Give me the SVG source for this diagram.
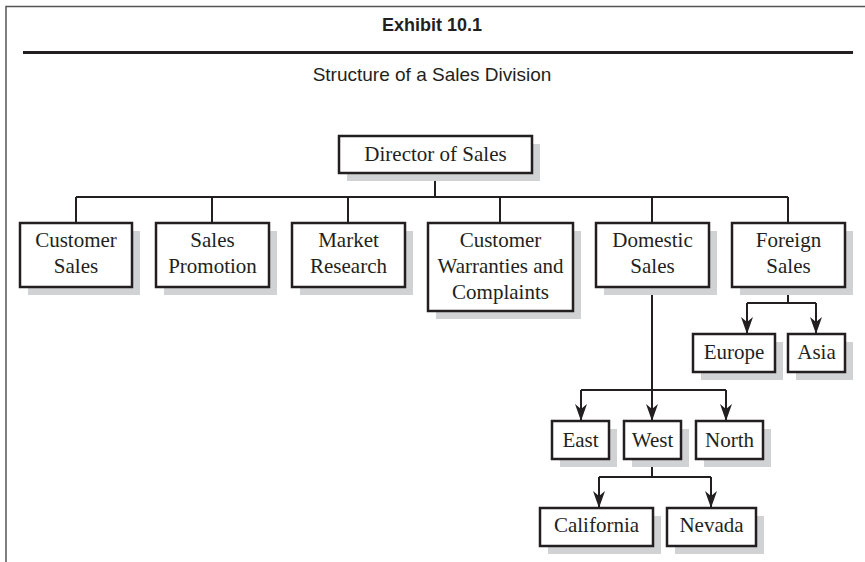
<svg xmlns="http://www.w3.org/2000/svg" width="865" height="562" viewBox="0 0 865 562">
<style>
.box{fill:#fff;stroke:#231f20;stroke-width:2.5}
.sh{fill:#d1d2d4}
.t{font-family:"Liberation Serif","Times New Roman",serif;font-size:21px;fill:#231f20;text-anchor:middle}
.c{fill:none;stroke:#231f20;stroke-width:2}
</style>
<defs>
<marker id="ah" viewBox="-17 -7 18 14" refX="0" refY="0" markerWidth="18" markerHeight="14" markerUnits="userSpaceOnUse" orient="auto">
<path d="M0,0 L-17,-6 L-12,0 L-17,6 Z" fill="#231f20"/>
</marker>
</defs>
<rect width="865" height="562" fill="#fff"/>
<g id="frame">
<path d="M6,562 V6.5 H865" fill="none" stroke="#555" stroke-width="1.5"/>
<line x1="23" y1="52.5" x2="853" y2="52.5" stroke="#231f20" stroke-width="3"/>
<text x="432" y="31" text-anchor="middle" font-family="Liberation Sans, Arial, sans-serif" font-size="18" font-weight="bold" fill="#231f20">Exhibit 10.1</text>
<text x="432" y="81" text-anchor="middle" font-family="Liberation Sans, Arial, sans-serif" font-size="19" fill="#231f20">Structure of a Sales Division</text>
</g>
<g id="connectors">
<path class="c" d="M435,173 V197 M76,197 H788 M76,197 V223 M212,197 V223 M348,197 V223 M500,197 V223 M652,197 V223 M788,197 V223"/>
<path class="c" d="M652,287 V390 M581,390 H726 M788,287 V303 M747,303 H816 M652,459 V477 M599,477 H711"/>
<path class="c" marker-end="url(#ah)" d="M581,390 V421"/>
<path class="c" marker-end="url(#ah)" d="M652,390 V421"/>
<path class="c" marker-end="url(#ah)" d="M726,390 V421"/>
<path class="c" marker-end="url(#ah)" d="M747,303 V334"/>
<path class="c" marker-end="url(#ah)" d="M816,303 V334"/>
<path class="c" marker-end="url(#ah)" d="M599,477 V508"/>
<path class="c" marker-end="url(#ah)" d="M711,477 V508"/>
</g>
<g id="director"><rect class="sh" x="347" y="144" width="193" height="37"/><rect class="box" x="339" y="136" width="193" height="37"/><text class="t" x="435.5" y="161">Director of Sales</text></g>
<g id="customer-sales"><rect class="sh" x="28" y="231" width="112" height="64"/><rect class="box" x="20" y="223" width="112" height="64"/><text class="t" x="76" y="247">Customer</text><text class="t" x="76" y="273">Sales</text></g>
<g id="sales-promotion"><rect class="sh" x="164" y="231" width="113" height="64"/><rect class="box" x="156" y="223" width="113" height="64"/><text class="t" x="212.5" y="247">Sales</text><text class="t" x="212.5" y="273">Promotion</text></g>
<g id="market-research"><rect class="sh" x="300" y="231" width="113" height="64"/><rect class="box" x="292" y="223" width="113" height="64"/><text class="t" x="348.5" y="247">Market</text><text class="t" x="348.5" y="273">Research</text></g>
<g id="warranties"><rect class="sh" x="436" y="231" width="145" height="88"/><rect class="box" x="428" y="223" width="145" height="88"/><text class="t" x="500.5" y="247">Customer</text><text class="t" x="500.5" y="273">Warranties and</text><text class="t" x="500.5" y="299">Complaints</text></g>
<g id="domestic-sales"><rect class="sh" x="604" y="231" width="113" height="64"/><rect class="box" x="596" y="223" width="113" height="64"/><text class="t" x="652.5" y="247">Domestic</text><text class="t" x="652.5" y="273">Sales</text></g>
<g id="foreign-sales"><rect class="sh" x="740" y="231" width="113" height="64"/><rect class="box" x="732" y="223" width="113" height="64"/><text class="t" x="788.5" y="247">Foreign</text><text class="t" x="788.5" y="273">Sales</text></g>
<g id="europe"><rect class="sh" x="701" y="342" width="82" height="38"/><rect class="box" x="693" y="334" width="82" height="38"/><text class="t" x="734" y="359">Europe</text></g>
<g id="asia"><rect class="sh" x="796" y="342" width="57" height="38"/><rect class="box" x="788" y="334" width="57" height="38"/><text class="t" x="816.5" y="359">Asia</text></g>
<g id="east"><rect class="sh" x="560" y="429" width="57" height="38"/><rect class="box" x="552" y="421" width="57" height="38"/><text class="t" x="580.5" y="447">East</text></g>
<g id="west"><rect class="sh" x="632" y="429" width="57" height="38"/><rect class="box" x="624" y="421" width="57" height="38"/><text class="t" x="652.5" y="447">West</text></g>
<g id="north"><rect class="sh" x="704" y="429" width="67" height="38"/><rect class="box" x="696" y="421" width="67" height="38"/><text class="t" x="729.5" y="447">North</text></g>
<g id="california"><rect class="sh" x="548" y="516" width="113" height="38"/><rect class="box" x="540" y="508" width="113" height="38"/><text class="t" x="596.5" y="532">California</text></g>
<g id="nevada"><rect class="sh" x="675" y="516" width="89" height="38"/><rect class="box" x="667" y="508" width="89" height="38"/><text class="t" x="711.5" y="532">Nevada</text></g>
</svg>
